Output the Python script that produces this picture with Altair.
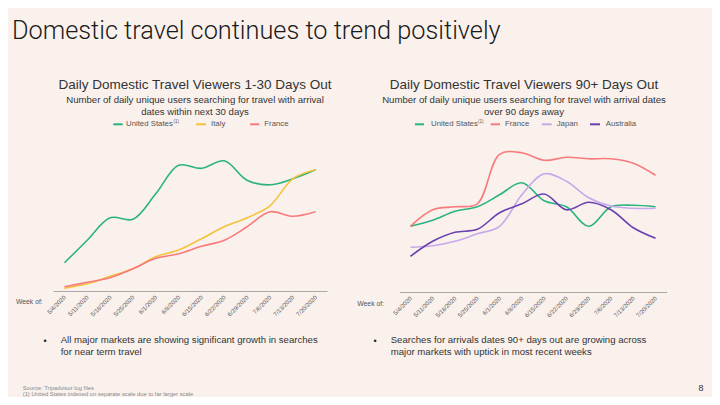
import altair as alt
import pandas as pd

# ---------------- data ----------------
weeks = ["5/4/2020", "5/11/2020", "5/18/2020", "5/25/2020", "6/1/2020", "6/8/2020",
         "6/15/2020", "6/22/2020", "6/29/2020", "7/6/2020", "7/13/2020", "7/20/2020"]

# 1-30 days out (indexed)
us_30 = [19, 34, 49, 48, 65, 84, 82, 87, 74, 71, 75, 81]
italy_30 = [2, 5, 10, 15, 23, 27.5, 35, 43, 49, 57, 75, 81]
france_30 = [3, 6, 9, 15, 22, 25, 30, 34, 43, 53, 50, 53]

# 90+ days out (indexed)
us_90 = [44, 48, 54, 57, 65, 73, 61, 57, 44, 57, 58, 57]
france_90 = [44, 55, 57, 59, 92, 93, 88, 90, 89, 89, 86, 78]
japan_90 = [30, 31, 34, 39, 44, 65, 79, 74, 63, 57.5, 56, 56]
australia_90 = [24, 34, 40, 42, 53, 59, 65.5, 55, 60, 55, 43, 36]

markets_30 = ["United States", "Italy", "France"]
colors_30 = ["#2bb37f", "#f4c23c", "#f87b7b"]
markets_90 = ["United States", "France", "Japan", "Australia"]
colors_90 = ["#2bb37f", "#f87b7b", "#c7a9ea", "#6a3fb0"]

BG = "#faf1ed"
FONT = "Liberation Sans"


def long_df(series):
    rows = []
    for m, vals in series.items():
        for w, v in zip(weeks, vals):
            rows.append({"week": w, "market": m, "value": v})
    return pd.DataFrame(rows)


df30 = long_df({"United States": us_30, "Italy": italy_30, "France": france_30})
df90 = long_df({"United States": us_90, "France": france_90, "Japan": japan_90,
                "Australia": australia_90})


def panel(df, markets, colors, xrange, yrange, offset):
    return alt.Chart(df).mark_line(interpolate="catmull-rom", strokeWidth=1.6).encode(
        x=alt.X("week:O", sort=weeks,
                scale=alt.Scale(type="point", range=xrange, padding=0.5),
                axis=alt.Axis(orient="bottom", offset=offset, title=None, labelAngle=-45,
                              labelAlign="right", labelBaseline="middle", labelFontSize=6,
                              labelColor="#555555", labelFont=FONT, labelPadding=5,
                              labelOverlap=False, labelBound=False, labelFlush=False,
                              ticks=False, domainColor="#a8a8a8", domainWidth=1, grid=False)),
        y=alt.Y("value:Q", scale=alt.Scale(domain=[0, 100], range=yrange, zero=False, nice=False),
                axis=None),
        color=alt.Color("market:N", scale=alt.Scale(domain=markets, range=colors), legend=None),
    )


left = panel(df30, markets_30, colors_30, [45, 319], [283.3, 133.3], -106)
right = panel(df90, markets_90, colors_90, [391.3, 658.7], [284.3, 134.3], -105)


def txt(s, x, y, size, color="#333333", align="left", baseline="middle", font=FONT, weight="normal"):
    return alt.Chart(alt.Data(values=[{"t": s}])).mark_text(
        align=align, baseline=baseline, fontSize=size, font=font, fontWeight=weight, color=color
    ).encode(x=alt.value(x), y=alt.value(y), text="t:N")


def swatch(x1, x2, y, color):
    return alt.Chart(alt.Data(values=[{"k": 1}])).mark_rule(color=color, strokeWidth=2).encode(
        x=alt.value(x1), x2=alt.value(x2), y=alt.value(y))


layers = [left, right]

# slide title
layers.append(txt("Domestic travel continues to trend positively", 4, 31, 25.3, "#1a1a1a",
                  baseline="alphabetic", font="Roboto", weight=300))

# left panel titles
layers.append(txt("Daily Domestic Travel Viewers 1-30 Days Out", 187, 80.5, 13.5, "#333333",
                  align="center", baseline="alphabetic"))
layers.append(txt("Number of daily unique users searching for travel with arrival", 187, 94.5, 9.6,
                  "#333333", align="center", baseline="alphabetic"))
layers.append(txt("dates within next 30 days", 187, 106.5, 9.6, "#333333", align="center",
                  baseline="alphabetic"))
# right panel titles
layers.append(txt("Daily Domestic Travel Viewers 90+ Days Out", 516, 80.5, 13.5, "#333333",
                  align="center", baseline="alphabetic"))
layers.append(txt("Number of daily unique users searching for travel with arrival dates", 516, 94.5,
                  9.6, "#333333", align="center", baseline="alphabetic"))
layers.append(txt("over 90 days away", 516, 106.5, 9.6, "#333333", align="center",
                  baseline="alphabetic"))

# left legend
LY = 116.3
layers += [swatch(105.3, 114.7, LY, colors_30[0]), txt("United States", 118, LY, 7.8, "#555555"),
           txt("(1)", 165.5, LY - 2.5, 4.5, "#555555"),
           swatch(188, 198, LY, colors_30[1]), txt("Italy", 203, LY, 7.8, "#555555"),
           swatch(242, 251.3, LY, colors_30[2]), txt("France", 256.3, LY, 7.8, "#555555")]
# right legend
layers += [swatch(407, 416, LY, colors_90[0]), txt("United States", 423, LY, 7.8, "#555555"),
           txt("(1)", 470, LY - 2.5, 4.5, "#555555"),
           swatch(482.7, 492, LY, colors_90[1]), txt("France", 497, LY, 7.8, "#555555"),
           swatch(533.7, 543.7, LY, colors_90[2]), txt("Japan", 548.7, LY, 7.8, "#555555"),
           swatch(582, 592, LY, colors_90[3]), txt("Australia", 597.7, LY, 7.8, "#555555")]

# week of
layers.append(txt("Week of:", 8, 293.7, 6.8, "#555555"))
layers.append(txt("Week of:", 349.3, 296, 6.8, "#555555"))

# bullets
layers += [txt("\u2022", 37, 333, 9, "#222222", align="center"),
           txt("All major markets are showing significant growth in searches", 52.7, 332.3, 9.6),
           txt("for near term travel", 52.7, 343.7, 9.6),
           txt("\u2022", 367, 333, 9, "#222222", align="center"),
           txt("Searches for arrivals dates 90+ days out are growing across", 382.7, 332.3, 9.6),
           txt("major markets with uptick in most recent weeks", 382.7, 343.7, 9.6)]

# footnotes and page number
layers += [txt("Source: Tripadvisor log files", 14.7, 380, 5.8, "#888888"),
           txt("(1) United States indexed on separate scale due to far larger scale", 14.7, 386.3,
               5.8, "#888888"),
           txt("8", 693, 379.7, 9, "#333333", align="center")]

chart = alt.layer(*layers).resolve_scale(
    x="independent", y="independent", color="independent"
).properties(
    width=704, height=389, padding=0, background=BG,
    autosize=alt.AutoSizeParams(type="none")
).configure_view(stroke=None)

chart.save("out.html", embed_options={"renderer": "svg", "actions": False})
